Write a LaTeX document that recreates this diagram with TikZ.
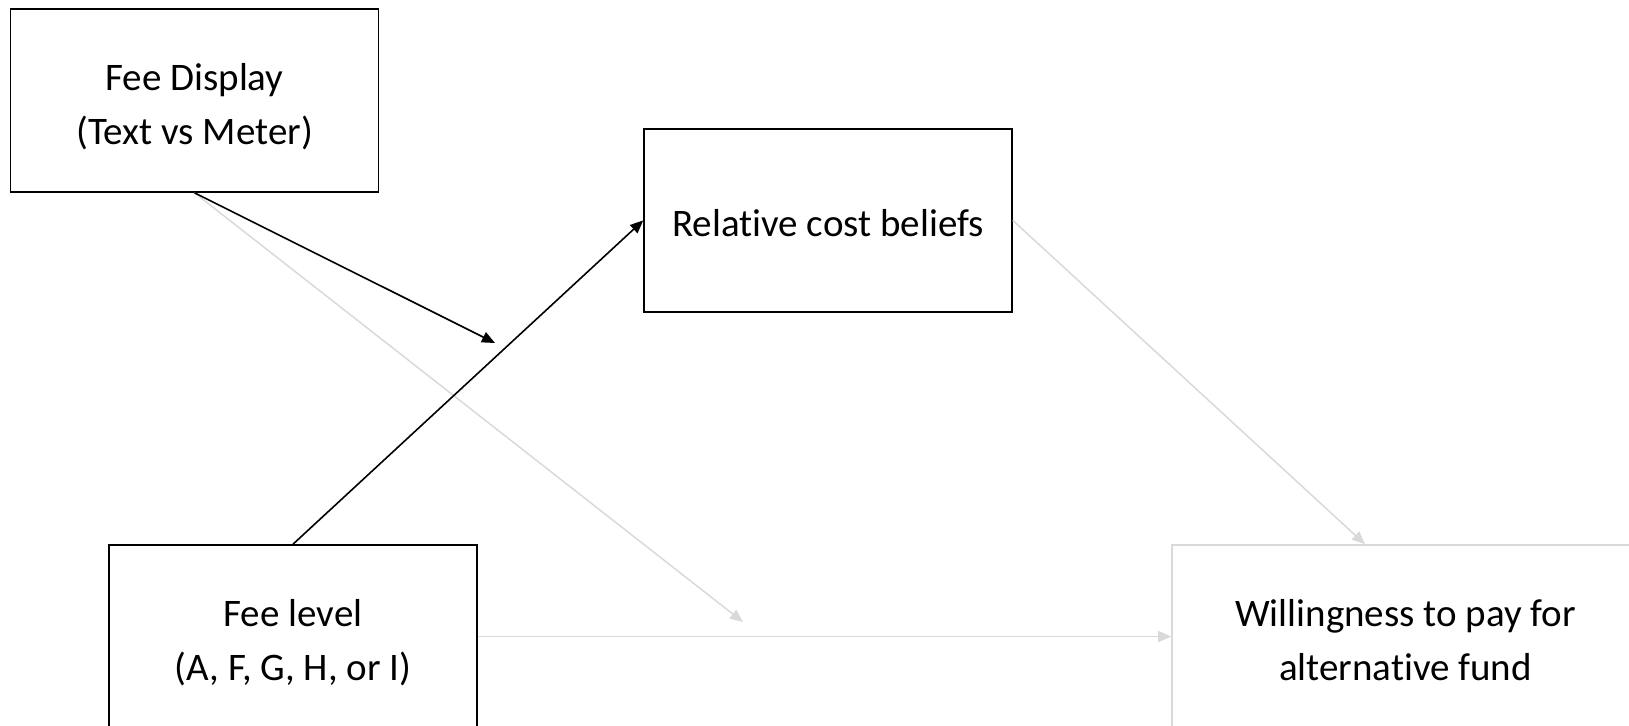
\documentclass[tikz,border=0pt]{standalone}
\usepackage{fontspec}
\setmainfont{Carlito}[Ligatures=NoCommon]
\usetikzlibrary{arrows.meta,calc}
\definecolor{lightline}{HTML}{D9D9D9}
\begin{document}
\begin{tikzpicture}[x=1pt,y=-1pt,
  box/.style={draw=black,line width=1.6pt,rectangle,minimum width=368pt,minimum height=183pt,
    inner sep=0pt,align=center,font=\fontsize{39}{54}\selectfont,text depth=0pt,text height=87pt},
  onebox/.style={box,text height=33pt},
  graybox/.style={box,draw=lightline,minimum width=467pt},
  blackarrow/.style={line width=1.6pt,-{Triangle[length=13pt,width=11pt]}},
  grayarrow/.style={draw=lightline,line width=1.5pt,-{Triangle[length=13pt,width=11pt]},color=lightline}]
\useasboundingbox (0,0) rectangle (1629,725);
\node[box] (disp) at (194.5,100.5) {Fee Display\\(Text vs Meter)};
\node[onebox] (rel) at (828,220.4) {Relative cost beliefs};
\node[box] (lvl) at (293,636.5) {Fee level\\(A, F, G, H, or I)};
\node[graybox] (will) at (1405.5,636.5) {Willingness to pay for\\alternative fund};
\coordinate (modtip) at (495,343);
\coordinate (dirtip) at (743,622);
\coordinate (willin) at ($(will.north)+(-40.5,0)$);
\draw[grayarrow] (disp.south) -- (dirtip);
\draw[grayarrow] (lvl.east) -- (will.west);
\draw[grayarrow] (rel.east) -- (willin);
\draw[blackarrow] (disp.south) -- (modtip);
\draw[blackarrow] (lvl.north) -- (rel.west);
\end{tikzpicture}
\end{document}
